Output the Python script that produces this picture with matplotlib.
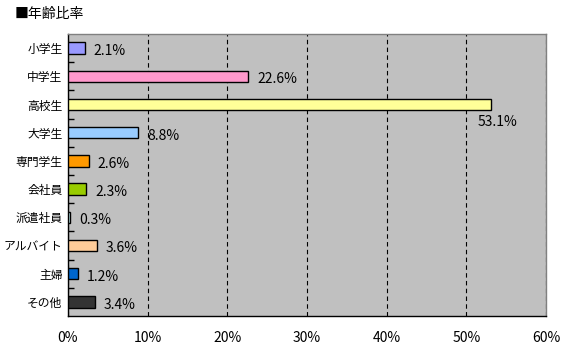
import matplotlib.pyplot as plt
import numpy as np

plt.rcParams['font.family'] = ['Noto Sans CJK JP', 'DejaVu Sans']

categories = ['小学生', '中学生', '高校生', '大学生', '専門学生', '会社員', '派遣社員', 'アルバイト', '主婦', 'その他']
values = [2.1, 22.6, 53.1, 8.8, 2.6, 2.3, 0.3, 3.6, 1.2, 3.4]
colors = ['#9999FF', '#FF99CC', '#FFFF99', '#99CCFF', '#FF9900',
          '#99CC00', '#CCFFFF', '#FFCC99', '#0066CC', '#333333']
xticks = [0, 10, 20, 30, 40, 50, 60]

fig = plt.figure(figsize=(5.73, 3.59), dpi=100)
ax = fig.add_axes([68 / 573, 43 / 359, 478 / 573, 282 / 359])
ax.set_facecolor('#C0C0C0')

y = np.arange(len(categories))
ax.barh(y, values, height=0.4, color=colors, edgecolor='black', linewidth=1, zorder=3)

for i, v in enumerate(values):
    if v > 50:
        ax.annotate(f'{v}%', (v, i), xytext=(-13, -18), textcoords='offset pixels',
                    ha='left', va='center', fontsize=10, zorder=4)
    else:
        ax.annotate(f'{v}%', (v, i), xytext=(9, -3), textcoords='offset pixels',
                    ha='left', va='center', fontsize=10, zorder=4)

ax.set_xlim(0, 60)
ax.set_ylim(len(categories) - 0.5, -0.5)
ax.set_xticks(xticks)
ax.set_xticklabels([f'{t}%' for t in xticks], fontsize=10)
ax.tick_params(axis='x', length=0, pad=11)

ax.set_yticks(y)
ax.set_yticklabels(categories, fontsize=8.5)
ax.tick_params(axis='y', which='major', length=0, pad=4)
ax.set_yticks(y[:-1] + 0.5, minor=True)
ax.tick_params(axis='y', which='minor', direction='in', length=4, width=1, color='black')

ax.grid(axis='x', color='black', linestyle=(0, (4, 3)), linewidth=0.8, zorder=1)
ax.set_axisbelow(True)

for side in ['left', 'bottom']:
    ax.spines[side].set_color('black')
    ax.spines[side].set_linewidth(1)
for side in ['top', 'right']:
    ax.spines[side].set_color('#808080')
    ax.spines[side].set_linewidth(1)

fig.text(15 / 573, 1 - 14 / 359, '■年齢比率', fontsize=10, ha='left', va='center')

fig.savefig('out.png', dpi=100)
